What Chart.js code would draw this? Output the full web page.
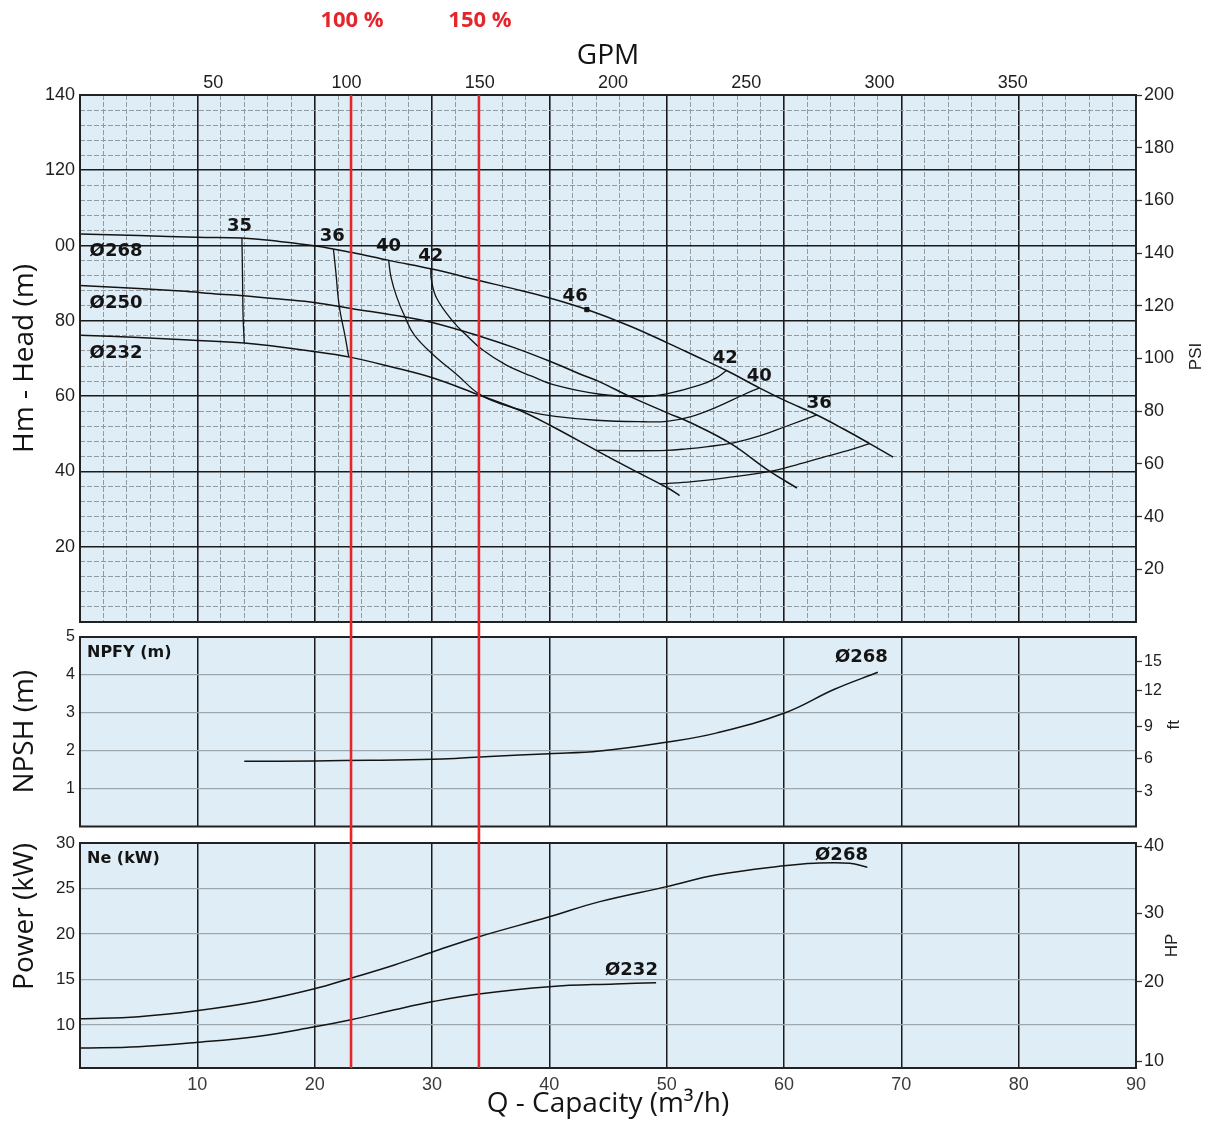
<!DOCTYPE html>
<html>
<head>
<meta charset="utf-8">
<title>Pump curve</title>
<script src="https://cdn.jsdelivr.net/npm/chart.js@4.4.1/dist/chart.umd.min.js"></script>
<style>
  html, body { margin: 0; padding: 0; background: #fff; }
  #wrap { position: relative; width: 1213px; height: 1124px; overflow: hidden; }
  #wrap canvas { position: absolute; left: 0; }
</style>
</head>
<body>
<div id="wrap">
  <canvas id="headChart" width="1213" height="640" style="top:0px"></canvas>
  <canvas id="npshChart" width="1213" height="230" style="top:617px"></canvas>
  <canvas id="powerChart" width="1213" height="302" style="top:822px"></canvas>
</div>
<script>
// --- flow axis, shared by the three panels (m3/h) ---
const qMin = 0, qMax = 90;
const gpmTicks = [50, 100, 150, 200, 250, 300, 350];
const GPM_TO_M3H = 0.22712;

// red duty lines
const refFlows = [23.1, 34.0];
const refLabels = ['100 %', '150 %'];

// H-Q curves, one per impeller diameter  [Q, H]
const headD268 = [[0,103.1],[5,102.7],[10,102.2],[13.8,102.0],[17,101.1],[20.1,99.9],[23.1,98.2],[26.4,96.0],[30.1,93.7],[34,90.7],[37,88.5],[40.1,86.0],[43.2,83.0],[46.8,78.7],[50.1,74.1],[52.5,70.6],[55.1,66.8],[57.9,62.2],[60.1,58.8],[62.8,55.0],[65,51.4],[67.3,47.4],[69.3,43.8]];
const headD250 = [[0,89.4],[5,88.6],[8.6,87.9],[11.9,87.1],[13.9,86.7],[17,85.8],[20.1,84.8],[23.1,83.3],[27.7,81.0],[30.1,79.5],[34,76.0],[37,72.9],[40.1,69.2],[42.6,65.9],[44.3,63.8],[46.8,60.0],[50.1,55.5],[52,53.0],[55.4,47.5],[58.8,40.0],[61.1,35.6]];
const headD232 = [[0,76.2],[5,75.6],[9.3,74.9],[14,74.1],[20.1,71.8],[23.1,70.3],[26.5,67.8],[30.1,64.8],[34,60.3],[37.5,56.2],[40.1,52.2],[44,45.6],[47,40.6],[50.1,35.6],[51.1,33.6]];

// efficiency lines (%)
const eff35a = [[13.8,102.0],[13.85,92],[13.9,81.2],[14.0,74.1]];
const eff35b = [[49.4,36.7],[52.2,37.3],[55,38.3],[58.8,40.0],[61,41.7],[63.6,44.0],[65.5,45.6],[67.3,47.4]];
const eff36a = [[21.6,99.0],[21.8,93.1],[22.1,83.8],[22.6,75.8],[22.9,70.5]];
const eff36b = [[44,45.6],[47,45.5],[50,45.6],[51.7,46.0],[53.5,46.6],[55.7,47.6],[58,49.5],[60.2,52.0],[62.8,55.0]];
const eff40 = [[26.3,96.2],[26.5,91.7],[27.0,86.3],[27.7,81.0],[28.5,76.2],[30.1,71.0],[32.2,65.5],[34.0,60.6],[36.0,57.8],[38.0,56.0],[40.5,54.6],[44,53.6],[48,53.2],[50,53.3],[52,54.5],[54.2,57.0],[56.5,60.3],[57.9,62.2]];
const eff42 = [[29.9,94.0],[29.95,90.9],[30.4,86.0],[31.8,79.8],[32.9,76.3],[34.3,72.3],[36.3,68.3],[38.5,65.3],[40.5,62.9],[44.3,60.5],[48,59.9],[50,60.6],[52.8,62.9],[54.2,64.8],[55.1,66.8]];
const eff46 = [[43.2,83.0]];

// NPSH required  [Q, m]
const npshD268 = [[14,1.72],[20,1.73],[24.7,1.75],[30.9,1.78],[34.9,1.85],[40,1.92],[44.3,1.99],[50.1,2.23],[54.3,2.47],[60.1,3.0],[64.3,3.62],[68,4.07]];

// shaft power  [Q, kW]
const powerD268 = [[0,10.66],[5,10.9],[9.9,11.54],[15.1,12.56],[19.9,13.93],[23.1,15.13],[26.8,16.58],[30.1,18.04],[34,19.69],[40,21.88],[44.3,23.55],[50,25.2],[54.3,26.5],[60,27.5],[62.6,27.78],[65.6,27.78],[67.1,27.34]];
const powerD232 = [[0,7.44],[5,7.6],[9.9,8.06],[15.1,8.72],[19.9,9.75],[23.1,10.55],[26.8,11.65],[30.1,12.56],[34,13.4],[40,14.2],[45.6,14.5],[49.1,14.64]];

// secondary unit axes
const psiTicks = [20, 40, 60, 80, 100, 120, 140, 160, 180, 200];
const ftTicks = [3, 6, 9, 12, 15];
const ftTickAt = [0.92, 1.79, 2.64, 3.58, 4.35];   // where the ft marks sit on the m scale
const hpTicks = [10, 20, 30, 40];
const hpTickAt = [5.97, 14.75, 22.25, 29.62];     // where the HP marks sit on the kW scale

// curve labels  (text, Q, value)
const headLabels = [
  ['Ø268', 3.07, 98.4], ['Ø250', 3.07, 84.6], ['Ø232', 3.07, 71.3],
  ['35', 13.6, 105.1], ['36', 21.5, 102.5], ['40', 26.3, 99.8], ['42', 29.9, 97.2],
  ['46', 42.2, 86.5], ['42', 55.0, 70.0], ['40', 57.9, 65.2], ['36', 63.0, 58.1]
];
const npshLabels = [['Ø268', 66.6, 4.47]];
const powerLabels = [['Ø268', 64.9, 28.65], ['Ø232', 47.0, 16.03]];

// colours
const BG = '#dfeef6', MAJOR = '#1b1b1b', MINOR = '#919ca2', SOFT = '#9ea7ab', INK = '#141414', RED = '#e4262b';
const TITLE_FONT = '"Open Sans", sans-serif';
Chart.defaults.font.family = '"Liberation Sans", Arial, sans-serif';
Chart.defaults.color = '#1e1e1e';

const range = (a, b, s) => { const r = []; for (let v = a; v <= b + 1e-9; v += s) r.push(+v.toFixed(4)); return r; };
const pts = arr => arr.map(([x, y]) => ({x, y}));
const onStep = (c, step) => c.tick && Math.abs(c.tick.value % step) < 1e-6;
const setTicks = vals => s => { s.ticks = vals.map(value => ({value})); };

function curve(data, width) {
  return { data: pts(data), borderColor: INK, borderWidth: width || 1.5, pointRadius: 0, tension: 0.4, fill: false, xAxisID: 'x', yAxisID: 'y' };
}

// background, frame, labels and the red duty lines for one panel
function panelPlugin(cfg) {
  return {
    id: 'panel_' + cfg.name,
    beforeDraw(chart) {
      const {ctx, chartArea: a} = chart;
      ctx.save();
      ctx.fillStyle = BG;
      ctx.fillRect(a.left, a.top, a.width, a.height);
      ctx.restore();
    },
    afterDraw(chart) {
      const {ctx, chartArea: a, scales} = chart;
      ctx.save();
      ctx.strokeStyle = '#222';
      ctx.lineWidth = 2;
      ctx.strokeRect(a.left, a.top, a.width, a.height);

      ctx.fillStyle = INK;
      ctx.textAlign = 'center';
      ctx.textBaseline = 'middle';
      ctx.font = 'bold 18px "DejaVu Sans"';
      cfg.labels.forEach(([t, q, v]) => ctx.fillText(t, scales.x.getPixelForValue(q), scales.y.getPixelForValue(v)));

      if (cfg.corner) {
        ctx.textAlign = 'left';
        ctx.font = 'bold 16px "DejaVu Sans"';
        ctx.fillText(cfg.corner, a.left + 7, a.top + 16);
      }

      if (cfg.side) {
        ctx.save();
        ctx.translate(a.right + cfg.side.dx, (a.top + a.bottom) / 2 + cfg.side.dy);
        ctx.rotate(-Math.PI / 2);
        ctx.textAlign = 'center';
        ctx.fillStyle = '#222';
        ctx.font = '17px "Liberation Sans"';
        ctx.fillText(cfg.side.text, 0, 0);
        ctx.restore();
      }

      ctx.strokeStyle = RED;
      ctx.lineWidth = 2.6;
      refFlows.forEach((q, i) => {
        const px = scales.x.getPixelForValue(q);
        ctx.beginPath();
        ctx.moveTo(px, a.top - cfg.redAbove);
        ctx.lineTo(px, a.bottom + cfg.redBelow);
        ctx.stroke();
        if (cfg.refText) {
          ctx.fillStyle = RED;
          ctx.textAlign = 'center';
          ctx.font = 'bold 22px ' + TITLE_FONT;
          ctx.fillText(refLabels[i], px + 1, 21);
        }
      });
      ctx.restore();
    }
  };
}

const base = {
  responsive: false,
  devicePixelRatio: 1,
  animation: false,
  events: [],
  plugins: { legend: { display: false }, tooltip: { enabled: false } }
};

// ---- Head panel ----
new Chart(document.getElementById('headChart'), {
  type: 'line',
  data: {
    datasets: [
      curve(headD268), curve(headD250), curve(headD232),
      curve(eff35a, 1.3), curve(eff35b, 1.3), curve(eff36a, 1.3), curve(eff36b, 1.3),
      curve(eff40, 1.3), curve(eff42, 1.3),
      { data: pts(eff46), showLine: false, pointStyle: 'rect', pointRadius: 3, backgroundColor: INK, borderColor: INK, xAxisID: 'x', yAxisID: 'y' }
    ]
  },
  options: {
    ...base,
    scales: {
      x: {
        type: 'linear', min: qMin, max: qMax, position: 'bottom',
        afterBuildTicks: setTicks(range(0, 90, 2)),
        afterFit: s => { s.height = 18; },
        ticks: { display: false },
        grid: { drawTicks: false, color: c => onStep(c, 10) ? MAJOR : MINOR, lineWidth: c => onStep(c, 10) ? 1.6 : 1 },
        border: { display: false, dash: c => onStep(c, 10) ? [] : [5, 2] }
      },
      xg: {
        type: 'linear', min: qMin, max: qMax, position: 'top',
        afterBuildTicks: setTicks(gpmTicks.map(g => g * GPM_TO_M3H)),
        afterFit: s => { s.height = 95; },
        ticks: { autoSkip: false, maxRotation: 0, padding: 1, font: { size: 18 }, callback: (v, i) => String(gpmTicks[i]) },
        grid: { drawOnChartArea: false, drawTicks: false },
        border: { display: false },
        title: { display: true, text: 'GPM', color: INK, font: { family: TITLE_FONT, size: 28 }, padding: { top: 39, bottom: 0 } }
      },
      y: {
        type: 'linear', min: 0, max: 140, position: 'left',
        afterBuildTicks: setTicks(range(0, 140, 4)),
        afterFit: s => { s.width = 80; },
        ticks: { autoSkip: false, padding: 5, font: { size: 18 }, callback: v => (v % 20 === 0 && v > 0) ? (v === 100 ? '00' : String(v)) : '' },
        grid: { drawTicks: false, color: c => onStep(c, 20) ? MAJOR : MINOR, lineWidth: c => onStep(c, 20) ? 1.6 : 1 },
        border: { display: false, dash: c => onStep(c, 20) ? [] : [5, 2] },
        title: { display: true, text: 'Hm - Head (m)', color: INK, font: { family: TITLE_FONT, size: 28 }, padding: { top: 8, bottom: 0 } }
      },
      yp: {
        type: 'linear', min: 0, max: 200, position: 'right',
        afterBuildTicks: setTicks(psiTicks),
        afterFit: s => { s.width = 77; },
        ticks: { autoSkip: false, padding: 2, font: { size: 18 } },
        grid: { drawOnChartArea: false, drawTicks: true, tickLength: 6, tickColor: '#333', tickWidth: 1.3 },
        border: { display: false }
      }
    }
  },
  plugins: [panelPlugin({ name: 'head', labels: headLabels, side: { text: 'PSI', dx: 60, dy: -2 }, redAbove: 0, redBelow: 8, refText: true })]
});

// ---- NPSH panel ----
new Chart(document.getElementById('npshChart'), {
  type: 'line',
  data: { datasets: [curve(npshD268)] },
  options: {
    ...base,
    layout: { padding: { top: 20 } },
    scales: {
      x: {
        type: 'linear', min: qMin, max: qMax, position: 'bottom',
        afterBuildTicks: setTicks(range(0, 90, 10)),
        afterFit: s => { s.height = 20.5; },
        ticks: { display: false },
        grid: { drawTicks: false, color: MAJOR, lineWidth: 1.5 },
        border: { display: false }
      },
      y: {
        type: 'linear', min: 0, max: 5, position: 'left',
        afterBuildTicks: setTicks([1, 2, 3, 4, 5]),
        afterFit: s => { s.width = 80; },
        ticks: { autoSkip: false, padding: 5, font: { size: 16 } },
        grid: { drawTicks: false, color: SOFT, lineWidth: 1.2 },
        border: { display: false },
        title: { display: true, text: 'NPSH (m)', color: INK, font: { family: TITLE_FONT, size: 28 }, padding: { top: 8, bottom: 0 } }
      },
      yf: {
        type: 'linear', min: 0, max: 5, position: 'right',
        afterBuildTicks: setTicks(ftTickAt),
        afterFit: s => { s.width = 77; },
        ticks: { autoSkip: false, padding: 2, font: { size: 16 }, callback: (v, i) => String(ftTicks[i]) },
        grid: { drawOnChartArea: false, drawTicks: true, tickLength: 6, tickColor: '#333', tickWidth: 1.3 },
        border: { display: false }
      }
    }
  },
  plugins: [panelPlugin({ name: 'npsh', labels: npshLabels, corner: 'NPFY (m)', side: { text: 'ft', dx: 38, dy: -7 }, redAbove: 7, redBelow: 9 })]
});

// ---- Power panel ----
new Chart(document.getElementById('powerChart'), {
  type: 'line',
  data: { datasets: [curve(powerD268), curve(powerD232)] },
  options: {
    ...base,
    layout: { padding: { top: 21 } },
    scales: {
      x: {
        type: 'linear', min: qMin, max: qMax, position: 'bottom',
        afterBuildTicks: setTicks(range(0, 90, 10)),
        afterFit: s => { s.height = 56; },
        ticks: { autoSkip: false, maxRotation: 0, padding: 6, color: '#3a3a3a', font: { size: 18 }, callback: v => v === 0 ? '' : String(v) },
        grid: { drawTicks: false, color: MAJOR, lineWidth: 1.5 },
        border: { display: false },
        title: { display: true, text: 'Q - Capacity (m³/h)', color: INK, font: { family: TITLE_FONT, size: 28 }, padding: { top: 0, bottom: 3 } }
      },
      y: {
        type: 'linear', min: 5.25, max: 30, position: 'left',
        afterBuildTicks: setTicks([10, 15, 20, 25, 30]),
        afterFit: s => { s.width = 80; },
        ticks: { autoSkip: false, padding: 5, font: { size: 17 } },
        grid: { drawTicks: false, color: SOFT, lineWidth: 1.2 },
        border: { display: false },
        title: { display: true, text: 'Power (kW)', align: 'end', color: INK, font: { family: TITLE_FONT, size: 28 }, padding: { top: 8, bottom: 0 } }
      },
      yh: {
        type: 'linear', min: 5.25, max: 30, position: 'right',
        afterBuildTicks: setTicks(hpTickAt),
        afterFit: s => { s.width = 77; },
        ticks: { autoSkip: false, padding: 2, font: { size: 18 }, callback: (v, i) => String(hpTicks[i]) },
        grid: { drawOnChartArea: false, drawTicks: true, tickLength: 6, tickColor: '#333', tickWidth: 1.3 },
        border: { display: false }
      }
    }
  },
  plugins: [panelPlugin({ name: 'power', labels: powerLabels, corner: 'Ne (kW)', side: { text: 'HP', dx: 36, dy: -10 }, redAbove: 8, redBelow: 0 })]
});
</script>
</body>
</html>
